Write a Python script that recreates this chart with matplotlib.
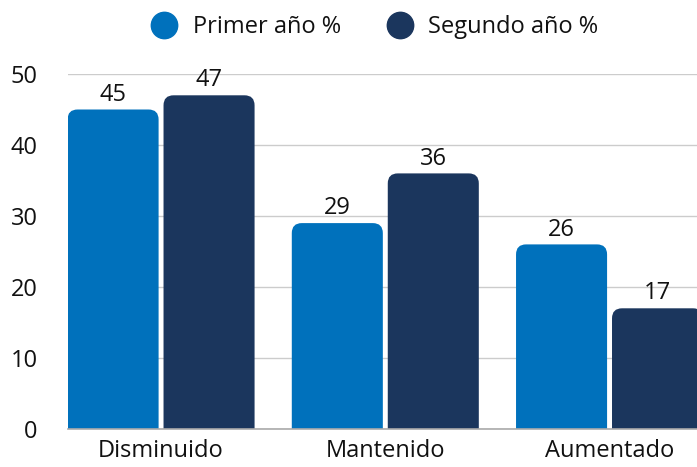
import matplotlib
matplotlib.use("Agg")
import matplotlib.pyplot as plt
from matplotlib.patches import FancyBboxPatch
from matplotlib.lines import Line2D
import numpy as np

plt.rcParams['font.family'] = ['Open Sans', 'DejaVu Sans']

categories = ["Disminuido", "Mantenido", "Aumentado"]
series_names = ["Primer año %", "Segundo año %"]
primer = [45, 29, 26]
segundo = [47, 36, 17]
yticks = [0, 10, 20, 30, 40, 50]
colors = ["#0071BC", "#1B365D"]

FS = 17

fig = plt.figure(figsize=(6.97, 4.67), dpi=100)
ax = fig.add_axes([68/697, 38/467, 1 - 68/697, (429-74)/467])

x = np.arange(len(categories))
w = 0.406
off = 0.214
ax.set_xlim(-0.415, 2.39)
ax.set_ylim(0, 50)

px_x = 224.0  # pixels per x unit
px_y = 7.1    # pixels per y unit
r_px = 10
rx = r_px / px_x
asp = (r_px / px_y) / rx

for vals, o, c in [(primer, -off, colors[0]), (segundo, off, colors[1])]:
    bars = ax.bar(x + o, vals, width=w, color=c, zorder=3)
    for b, v in zip(bars, vals):
        b.set_visible(False)
        xx = b.get_x()
        patch = FancyBboxPatch((xx, -5), b.get_width(), v + 5,
                               boxstyle=f"round,pad=0,rounding_size={rx}",
                               mutation_aspect=asp, facecolor=c, edgecolor='none',
                               zorder=3, clip_on=True)
        ax.add_patch(patch)
        ax.text(b.get_x() + b.get_width()/2, v + 0.4, f"{v}", ha='center', va='bottom',
                fontsize=FS, color='#111111', zorder=4)

ax.set_yticks(yticks)
ax.set_yticklabels([str(t) for t in yticks], fontsize=FS, color='#111111')
ax.set_xticks(x)
ax.set_xticklabels(categories, fontsize=FS, color='#111111')
ax.tick_params(axis='both', length=0)
ax.tick_params(axis='y', pad=22)
ax.tick_params(axis='x', pad=7)
ax.yaxis.grid(True, color='#cccccc', linewidth=1, zorder=0)
ax.set_axisbelow(True)
for s in ['top', 'right', 'left']:
    ax.spines[s].set_visible(False)
ax.spines['bottom'].set_color('#aaaaaa')
ax.spines['bottom'].set_linewidth(1.2)
ax.spines['bottom'].set_zorder(5)

handles = [Line2D([0], [0], marker='o', linestyle='none', markersize=19,
                  markerfacecolor=c, markeredgecolor=c) for c in colors]
fig.legend(handles, series_names, loc='center', bbox_to_anchor=(0.530, 1 - 27/467),
           ncol=2, frameon=False, fontsize=FS, handletextpad=0.2, columnspacing=1.5,
           labelcolor='#111111')

fig.savefig("out.png", dpi=100)
